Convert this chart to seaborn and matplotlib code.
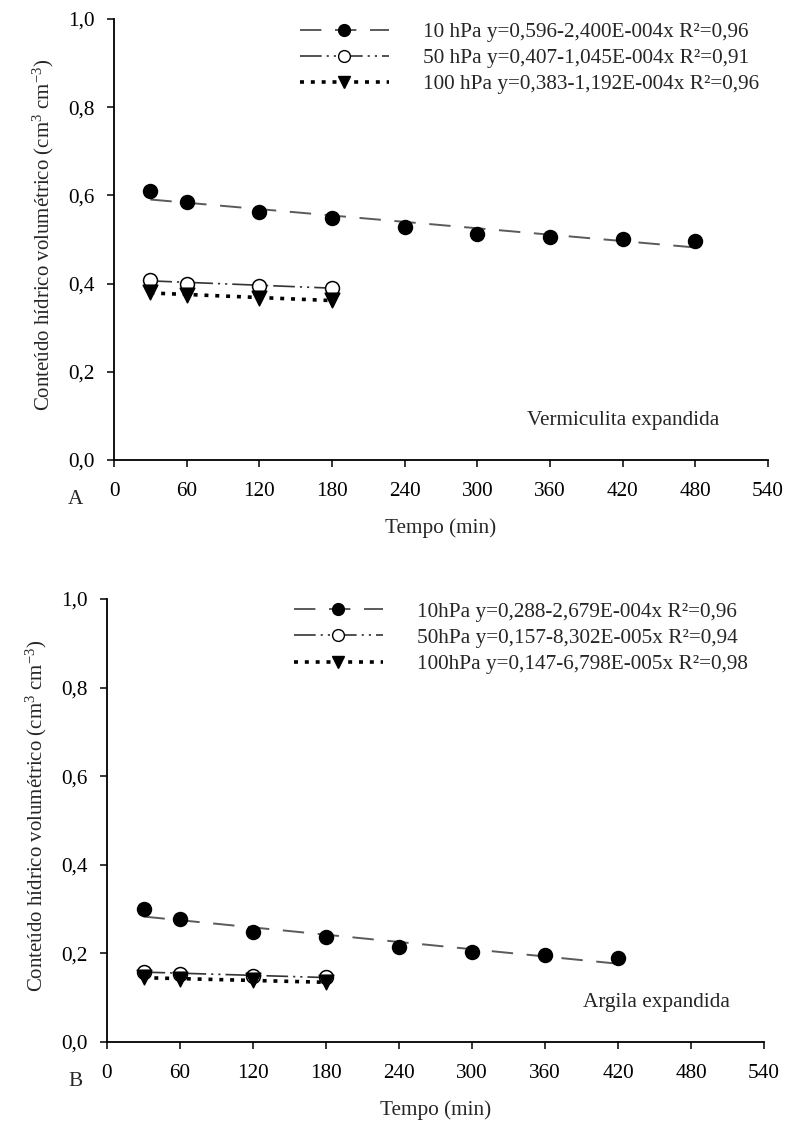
import numpy as np
import pandas as pd
import matplotlib
matplotlib.use("Agg")
import matplotlib.pyplot as plt
import seaborn as sns
from matplotlib.lines import Line2D

# ---------------- data ----------------
# Panel A: Vermiculita expandida
a_time_10 = [30, 60, 120, 180, 240, 300, 360, 420, 480]
a_theta_10 = [0.610, 0.584, 0.563, 0.549, 0.529, 0.513, 0.506, 0.501, 0.497]
a_time_50 = [30, 60, 120, 180]
a_theta_50 = [0.409, 0.400, 0.395, 0.391]
a_time_100 = [30, 60, 120, 180]
a_theta_100 = [0.380, 0.374, 0.368, 0.362]
a_labels = ["10 hPa y=0,596-2,400E-004x R²=0,96",
            "50 hPa y=0,407-1,045E-004x R²=0,91",
            "100 hPa y=0,383-1,192E-004x R²=0,96"]

# Panel B: Argila expandida
b_time_10 = [30, 60, 120, 180, 240, 300, 360, 420]
b_theta_10 = [0.300, 0.277, 0.248, 0.236, 0.214, 0.204, 0.196, 0.189]
b_time_50 = [30, 60, 120, 180]
b_theta_50 = [0.159, 0.154, 0.150, 0.146]
b_time_100 = [30, 60, 120, 180]
b_theta_100 = [0.146, 0.142, 0.139, 0.135]
b_labels = ["10hPa y=0,288-2,679E-004x R²=0,96",
            "50hPa y=0,157-8,302E-005x R²=0,94",
            "100hPa y=0,147-6,798E-005x R²=0,98"]

xticks = [0, 60, 120, 180, 240, 300, 360, 420, 480, 540]
yticks = [0.0, 0.2, 0.4, 0.6, 0.8, 1.0]
ytick_labels = ["0,0", "0,2", "0,4", "0,6", "0,8", "1,0"]
ylabel = "Conteúdo hídrico volumétrico (cm$^{3}$ cm$^{-3}$)"
xlabel = "Tempo (min)"

# ---------------- style ----------------
sns.set_theme(style="ticks")
plt.rcParams["font.family"] = ["Liberation Serif", "DejaVu Serif"]
plt.rcParams["mathtext.fontset"] = "custom"
plt.rcParams["mathtext.rm"] = "Liberation Serif"
plt.rcParams["mathtext.it"] = "Liberation Serif:italic"
plt.rcParams["mathtext.bf"] = "Liberation Serif:bold"

FS = 15.3
styles = {
    "10": dict(ls=(0, (11, 7)), lw=1.4, color="#5a5a5a", marker="o", mfc="black"),
    "50": dict(ls=(0, (13, 3, 1.3, 3, 1.3, 3)), lw=1.2, color="#333333", marker="o", mfc="white"),
    "100": dict(ls=(0, (1.1, 1.9)), lw=2.6, color="black", marker="v", mfc="black"),
}

fig = plt.figure(figsize=(7.85, 11.22), dpi=100)
ax_a = fig.add_axes([114 / 785, 1 - 460 / 1122, 654 / 785, 441 / 1122])
ax_b = fig.add_axes([107 / 785, 1 - 1042 / 1122, 657 / 785, 443 / 1122])


def draw_panel(ax, series, labels, note, note_x, letter, letter_y, leg_y):
    handles = []
    for key, (t, th) in zip(["10", "50", "100"], series):
        st = styles[key]
        df = pd.DataFrame({"t": t, "th": th})
        sns.regplot(data=df, x="t", y="th", ax=ax, ci=None, scatter=False,
                    line_kws=dict(color=st["color"], lw=st["lw"], ls=st["ls"]))
        ms = 10 if st["marker"] == "o" else 10.5
        sns.scatterplot(data=df, x="t", y="th", ax=ax, marker=st["marker"],
                        s=ms ** 2, color=st["mfc"], edgecolor="black",
                        linewidth=1.1, zorder=5, legend=False)
        handles.append(Line2D([], [], color=st["color"], lw=st["lw"], ls=st["ls"],
                              marker=st["marker"], markersize=ms * 0.85,
                              markerfacecolor=st["mfc"], markeredgecolor="black"))
    ax.set_xlim(0, 540)
    ax.set_ylim(0, 1.0)
    ax.set_xticks(xticks)
    ax.set_xticklabels([str(x) for x in xticks])
    ax.set_yticks(yticks)
    ax.set_yticklabels(ytick_labels)
    ax.tick_params(labelsize=FS, length=5, width=1.1, direction="out", colors="black")
    ax.tick_params(axis="x", pad=11)
    ax.tick_params(axis="y", pad=9)
    for s in ["left", "bottom"]:
        ax.spines[s].set_linewidth(1.3)
        ax.spines[s].set_color("black")
    sns.despine(ax=ax)
    ax.set_xlabel(xlabel, fontsize=FS, labelpad=12)
    ax.set_ylabel(ylabel, fontsize=15, labelpad=8)
    ax.yaxis.set_label_coords(-0.088, 0.51)
    ax.legend(handles, labels, loc="upper left", bbox_to_anchor=(0.284, leg_y),
              frameon=False, fontsize=FS, handlelength=4.2, handletextpad=1.6,
              borderpad=0, borderaxespad=0, labelspacing=0.3)
    ax.text(note_x, 0.09, note, transform=ax.transAxes, fontsize=FS,
            ha="left", va="center")
    fig.text(75 / 785, letter_y, letter, fontsize=FS, ha="center", va="center")


draw_panel(ax_a, [(a_time_10, a_theta_10), (a_time_50, a_theta_50),
                  (a_time_100, a_theta_100)], a_labels,
           "Vermiculita expandida", 0.632, "A", 1 - 500 / 1122, 0.993)
draw_panel(ax_b, [(b_time_10, b_theta_10), (b_time_50, b_theta_50),
                  (b_time_100, b_theta_100)], b_labels,
           "Argila expandida", 0.724, "B", 1 - 1082 / 1122, 0.994)

fig.savefig("out.png", dpi=100)
